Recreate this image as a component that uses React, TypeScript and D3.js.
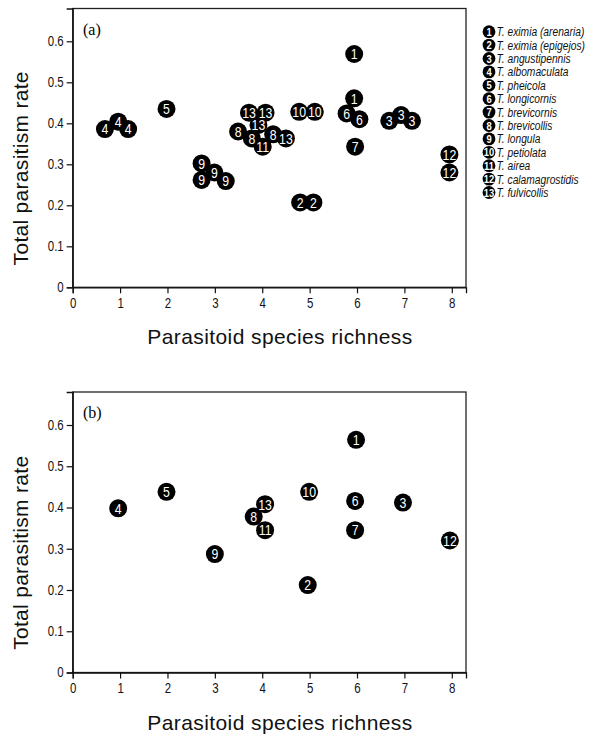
import React, { useEffect, useRef } from "react";
import * as d3 from "d3";

// legend names, species number = index + 1
const speciesNames = [
  "T. eximia (arenaria)",
  "T. eximia (epigejos)",
  "T. angustipennis",
  "T. albomaculata",
  "T. pheicola",
  "T. longicornis",
  "T. brevicornis",
  "T. brevicollis",
  "T. longula",
  "T. petiolata",
  "T. airea",
  "T. calamagrostidis",
  "T. fulvicollis",
];

// panel (a): one point per population
const aSpecies = [4, 4, 4, 5, 9, 9, 9, 9, 13, 13, 13, 13, 8, 8, 8, 11, 10, 10, 2, 2, 1, 1, 6, 6, 7, 3, 3, 3, 12, 12];
const aRichness = [0.68, 0.96, 1.17, 1.98, 2.72, 2.99, 2.72, 3.23, 3.72, 4.07, 3.92, 4.5, 3.49, 3.78, 4.23, 4.01, 4.78, 5.11, 4.8, 5.08, 5.94, 5.94, 5.78, 6.05, 5.96, 6.68, 6.93, 7.16, 7.95, 7.95];
const aRate = [0.386, 0.404, 0.386, 0.435, 0.302, 0.28, 0.262, 0.259, 0.426, 0.426, 0.396, 0.363, 0.38, 0.363, 0.373, 0.343, 0.428, 0.428, 0.207, 0.207, 0.569, 0.461, 0.424, 0.41, 0.343, 0.406, 0.42, 0.406, 0.324, 0.28];

// panel (b): one point per species
const bSpecies = [4, 5, 9, 8, 13, 11, 10, 2, 1, 6, 7, 3, 12];
const bRichness = [0.96, 1.98, 3.0, 3.82, 4.06, 4.06, 4.99, 4.96, 5.98, 5.96, 5.96, 6.97, 7.96];
const bRate = [0.398, 0.438, 0.287, 0.378, 0.408, 0.345, 0.438, 0.212, 0.564, 0.416, 0.345, 0.412, 0.32];

const xTicks = [0, 1, 2, 3, 4, 5, 6, 7, 8];
const yTicks = [0, 0.1, 0.2, 0.3, 0.4, 0.5, 0.6];

const SANS = "'Liberation Sans',Arial,Helvetica,sans-serif";
const SQ = 0.82; // no narrow font installed, so squeeze Liberation Sans

function drawPanel(svg, opts) {
  const { top, bottom, tag, species, xs, ys } = opts;
  const x = d3.scaleLinear().domain([0, 8.3]).range([72.7, 466]);
  const y = d3.scaleLinear().domain([0, 0.68]).range([bottom, top]);
  const g = svg.append("g");

  // frame
  g.append("rect")
    .attr("x", x(0))
    .attr("y", y(0.68))
    .attr("width", x(8.3) - x(0))
    .attr("height", y(0) - y(0.68))
    .attr("fill", "none")
    .attr("stroke", "#222")
    .attr("stroke-width", 1.3);

  const xAxis = g
    .append("g")
    .attr("transform", `translate(0,${y(0)})`)
    .call(d3.axisBottom(x).tickValues(xTicks).tickSize(6).tickPadding(5).tickFormat(d3.format("d")));
  xAxis.select(".domain").attr("stroke", "#111").attr("stroke-width", 1.3);
  xAxis.selectAll(".tick line").attr("stroke", "#111").attr("stroke-width", 1.2);
  xAxis.selectAll("text")
    .attr("font-family", SANS)
    .attr("font-size", 14)
    .attr("fill", "#111")
    .attr("transform", `scale(${SQ},1)`);

  const yAxis = g
    .append("g")
    .attr("transform", `translate(${x(0)},0)`)
    .call(d3.axisLeft(y).tickValues(yTicks).tickSize(6).tickPadding(3).tickFormat((d) => (d === 0 ? "0" : d3.format(".1f")(d))));
  yAxis.select(".domain").attr("stroke", "#111").attr("stroke-width", 1.3);
  yAxis.selectAll(".tick line").attr("stroke", "#111").attr("stroke-width", 1.2);
  yAxis.selectAll("text")
    .attr("font-family", SANS)
    .attr("font-size", 14)
    .attr("fill", "#111")
    .attr("x", -9 / SQ)
    .attr("transform", `scale(${SQ},1)`);

  g.append("text")
    .attr("x", 83)
    .attr("y", top + 26)
    .attr("font-family", "'Liberation Serif','Times New Roman',serif")
    .attr("font-size", 16)
    .text(tag);

  g.append("text")
    .attr("x", 280)
    .attr("y", y(0) + 57)
    .attr("text-anchor", "middle")
    .attr("font-family", SANS)
    .attr("font-size", 21)
    .attr("letter-spacing", 0.4)
    .attr("fill", "#111")
    .text("Parasitoid species richness");

  const midY = (y(0) + y(0.6)) / 2 + 4;
  g.append("text")
    .attr("transform", `translate(28,${midY}) rotate(-90)`)
    .attr("text-anchor", "middle")
    .attr("font-family", SANS)
    .attr("font-size", 21)
    .attr("letter-spacing", 0.3)
    .attr("fill", "#111")
    .text("Total parasitism rate");

  const pts = species.map((s, i) => ({ s, x: xs[i], y: ys[i] }));
  g.selectAll(".dot")
    .data(pts)
    .enter()
    .append("circle")
    .attr("class", "dot")
    .attr("cx", (d) => x(d.x))
    .attr("cy", (d) => y(d.y))
    .attr("r", 9)
    .attr("fill", "#000");
  g.selectAll(".num")
    .data(pts)
    .enter()
    .append("text")
    .attr("class", "num")
    .attr("transform", (d) => `translate(${x(d.x)},${y(d.y) + 5.3}) scale(${SQ},1)`)
    .attr("text-anchor", "middle")
    .attr("font-family", SANS)
    .attr("font-size", 15)
    .attr("fill", "#fff")
    .text((d) => d.s);
}

function App() {
  const chartRef = useRef();

  useEffect(() => {
    d3.select(chartRef.current).selectAll("*").remove();
    const svg = d3
      .select(chartRef.current)
      .append("svg")
      .attr("width", 610)
      .attr("height", 736)
      .style("position", "absolute")
      .style("left", 0)
      .style("top", 0)
      .style("background", "#fff");

    drawPanel(svg, { top: 8.5, bottom: 287.3, tag: "(a)", species: aSpecies, xs: aRichness, ys: aRate });
    drawPanel(svg, { top: 392, bottom: 672.5, tag: "(b)", species: bSpecies, xs: bRichness, ys: bRate });

    // legend
    const row = d3.scaleLinear().domain([0, 12]).range([31.7, 192.5]);
    const leg = svg
      .append("g")
      .selectAll("g")
      .data(speciesNames)
      .enter()
      .append("g")
      .attr("transform", (d, i) => `translate(489,${row(i)})`);
    leg.append("circle").attr("r", 6.4).attr("fill", "#000");
    leg.append("text")
      .attr("transform", `translate(0,4) scale(${SQ},1)`)
      .attr("text-anchor", "middle")
      .attr("font-family", SANS)
      .attr("font-size", 11.5)
      .attr("font-weight", "bold")
      .attr("fill", "#fff")
      .text((d, i) => i + 1);
    leg.append("text")
      .attr("transform", `translate(7.5,4.4) scale(${SQ},1)`)
      .attr("font-family", SANS)
      .attr("font-style", "italic")
      .attr("font-size", 12.5)
      .attr("fill", "#111")
      .text((d) => d);
  }, []);

  return <div ref={chartRef}></div>;
}

export default App;
